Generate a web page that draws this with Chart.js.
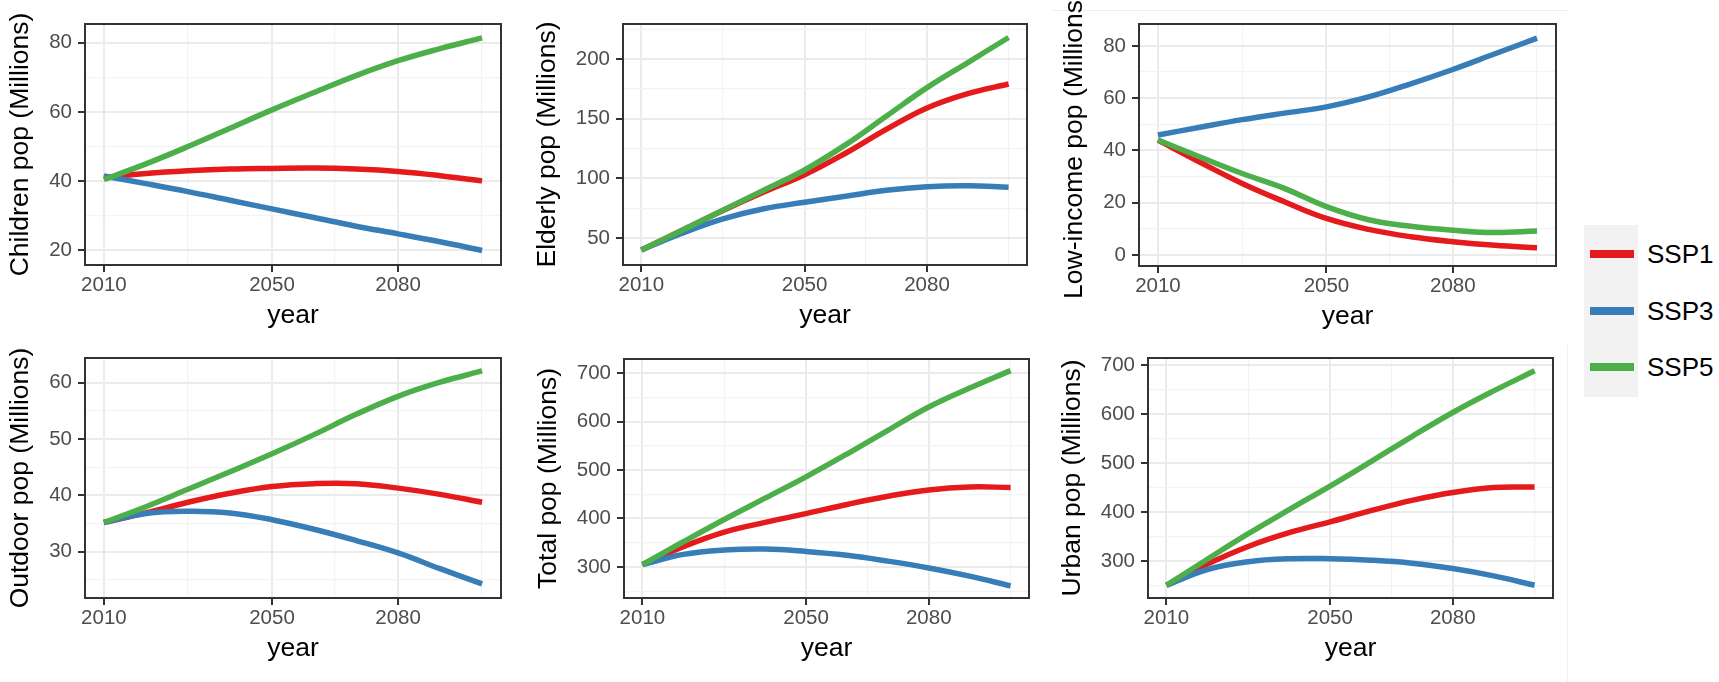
<!DOCTYPE html>
<html>
<head>
<meta charset="utf-8">
<script src="https://cdn.jsdelivr.net/npm/chart.js@4.4.1/dist/chart.umd.min.js"></script>
<style>
  html, body { margin: 0; padding: 0; background: #fff; }
  body { width: 1719px; height: 682px; position: relative; overflow: hidden;
         font-family: "Liberation Sans", Arial, sans-serif; }
  .panel { position: absolute; }
  .legend { position: absolute; left: 1584px; top: 225px; width: 54px; height: 172px; background: #f2f2f2; }
  .key { position: absolute; left: 1590px; width: 44px; height: 8px; }
  .keytext { position: absolute; left: 1647px; font-size: 26px; line-height: 30px; color: #000; }
  .faint { position: absolute; background: #efefef; }
</style>
</head>
<body>
<div class="faint" style="left:1052px; top:10px; width:516px; height:1px;"></div>
<div class="faint" style="left:1567px; top:345px; width:1px; height:337px;"></div>

<div class="panel" id="p1"><canvas></canvas></div>
<div class="panel" id="p2"><canvas></canvas></div>
<div class="panel" id="p3"><canvas></canvas></div>
<div class="panel" id="p4"><canvas></canvas></div>
<div class="panel" id="p5"><canvas></canvas></div>
<div class="panel" id="p6"><canvas></canvas></div>

<div class="legend"></div>
<div id="legendKeys"></div>

<script>
// x values and scenarios
const years = [2010, 2020, 2030, 2040, 2050, 2060, 2070, 2080, 2090, 2100];
const scenarios = ['SSP1', 'SSP3', 'SSP5'];
const yearTicks = [2010, 2050, 2080];
const yearMinor = [2030, 2065, 2100];

// Children pop
const childrenSSP1 = [41, 42.2, 43, 43.5, 43.7, 43.8, 43.5, 42.8, 41.6, 40.1];
const childrenSSP3 = [41.5, 39.3, 37, 34.5, 32, 29.5, 27, 24.8, 22.5, 20];
const childrenSSP5 = [40.5, 45, 50, 55.3, 60.6, 65.6, 70.5, 74.8, 78.3, 81.4];
const childrenTicks = [20, 40, 60, 80];
const childrenMinor = [30, 50, 70];

// Elderly pop
const elderlySSP1 = [40, 56.5, 73, 88.5, 103, 121, 141, 159, 171, 179];
const elderlySSP3 = [40, 54, 66, 74.5, 80, 85, 90, 93, 93.8, 92.5];
const elderlySSP5 = [40, 56.5, 73.4, 90, 107, 128, 152, 176, 197, 218];
const elderlyTicks = [50, 100, 150, 200];
const elderlyMinor = [75, 125, 175, 225];

// Low-income pop
const lowincSSP1 = [44, 35.5, 27.4, 20.4, 14, 9.8, 7, 5.1, 3.7, 2.8];
const lowincSSP3 = [45.9, 48.9, 51.8, 54.3, 56.7, 60.5, 65.5, 71, 77, 83];
const lowincSSP5 = [44, 37.5, 31.2, 25.5, 18.5, 13.5, 11, 9.5, 8.6, 9.2];
const lowincTicks = [0, 20, 40, 60, 80];
const lowincMinor = [10, 30, 50, 70];

// Outdoor pop
const outdoorSSP1 = [35.2, 36.9, 38.8, 40.4, 41.6, 42.1, 42.1, 41.3, 40.2, 38.8];
const outdoorSSP3 = [35.2, 36.8, 37.2, 36.9, 35.7, 34, 32, 29.8, 27, 24.3];
const outdoorSSP5 = [35.2, 38, 41.1, 44.2, 47.4, 50.8, 54.4, 57.6, 60.1, 62.1];
const outdoorTicks = [30, 40, 50, 60];
const outdoorMinor = [25, 35, 45, 55];

// Total pop
const totalSSP1 = [305, 342, 372, 392, 410, 429, 446, 459, 465, 464];
const totalSSP3 = [305, 326, 335, 337, 332, 324, 312, 298, 281, 261];
const totalSSP5 = [305, 352, 398, 442, 486, 533, 582, 630, 669, 705];
const totalTicks = [300, 400, 500, 600, 700];
const totalMinor = [250, 350, 450, 550, 650];

// Urban pop
const urbanSSP1 = [251, 294, 330, 358, 380, 403, 424, 440, 450, 451];
const urbanSSP3 = [251, 283, 299, 305, 305, 302, 296, 285, 270, 251];
const urbanSSP5 = [251, 304, 356, 405, 453, 503, 554, 603, 647, 688];
const urbanTicks = [300, 400, 500, 600, 700];
const urbanMinor = [250, 350, 450, 550, 650];

const colors = ['#E41A1C', '#377EB8', '#4DAF4A'];
const tickFont = { family: 'Liberation Sans', size: 20.5 };
const titleFont = { family: 'Liberation Sans', size: 26.5 };

// panel geometry: canvas origin + plot rectangle [left, top, right, bottom]
const panels = [
  { id: 'p1', title: 'Children pop (Millions)', series: [childrenSSP1, childrenSSP3, childrenSSP5],
    ticks: childrenTicks, minor: childrenMinor, yMin: 15.8, yMax: 85.4, cx: 0, cy: 0, plot: [85, 24, 501, 265] },
  { id: 'p2', title: 'Elderly pop (Millions)', series: [elderlySSP1, elderlySSP3, elderlySSP5],
    ticks: elderlyTicks, minor: elderlyMinor, yMin: 27.4, yMax: 229.3, cx: 527, cy: 0, plot: [623, 24, 1027, 265] },
  { id: 'p3', title: 'Low-income pop (Millions)', series: [lowincSSP1, lowincSSP3, lowincSSP5],
    ticks: lowincTicks, minor: lowincMinor, yMin: -4.2, yMax: 88.4, cx: 1054, cy: 0, plot: [1139, 24, 1556, 266] },
  { id: 'p4', title: 'Outdoor pop (Millions)', series: [outdoorSSP1, outdoorSSP3, outdoorSSP5],
    ticks: outdoorTicks, minor: outdoorMinor, yMin: 21.8, yMax: 64.4, cx: 0, cy: 334, plot: [85, 358, 501, 598] },
  { id: 'p5', title: 'Total pop (Millions)', series: [totalSSP1, totalSSP3, totalSSP5],
    ticks: totalTicks, minor: totalMinor, yMin: 236, yMax: 729, cx: 528, cy: 334, plot: [624, 359, 1029, 598] },
  { id: 'p6', title: 'Urban pop (Millions)', series: [urbanSSP1, urbanSSP3, urbanSSP5],
    ticks: urbanTicks, minor: urbanMinor, yMin: 225, yMax: 714, cx: 1052, cy: 334, plot: [1148, 358, 1553, 598] }
];

const panelBorder = {
  id: 'panelBorder',
  afterDatasetsDraw(chart) {
    const { ctx, chartArea: a } = chart;
    ctx.save();
    ctx.strokeStyle = '#333333';
    ctx.lineWidth = 2;
    ctx.strokeRect(a.left, a.top, a.right - a.left, a.bottom - a.top);
    ctx.restore();
  }
};

function gridOpts(major) {
  return {
    color: c => major.includes(c.tick.value) ? '#ebebeb' : '#f3f3f3',
    lineWidth: c => major.includes(c.tick.value) ? 2 : 1.2,
    tickColor: c => major.includes(c.tick.value) ? '#333333' : 'rgba(0,0,0,0)',
    tickWidth: 2,
    tickLength: 7
  };
}

panels.forEach(p => {
  const [L, T, R, B] = p.plot;
  const w = R + 20 - p.cx;
  const h = B + 69 - p.cy;
  const box = document.getElementById(p.id);
  box.style.left = p.cx + 'px';
  box.style.top = p.cy + 'px';
  box.style.width = w + 'px';
  box.style.height = h + 'px';
  const axisW = L - p.cx;

  new Chart(box.querySelector('canvas'), {
    type: 'line',
    data: {
      datasets: scenarios.map((name, i) => ({
        label: name,
        data: years.map((yr, k) => ({ x: yr, y: p.series[i][k] })),
        borderColor: colors[i],
        borderWidth: 5.5,
        borderCapStyle: 'butt',
        pointRadius: 0,
        tension: 0.4,
        fill: false,
        order: 3 - i
      }))
    },
    options: {
      responsive: true,
      maintainAspectRatio: false,
      animation: false,
      events: [],
      layout: { padding: { top: T - p.cy, right: 20, left: 0, bottom: 0 } },
      plugins: { legend: { display: false }, tooltip: { enabled: false } },
      scales: {
        x: {
          type: 'linear',
          min: 2005.5,
          max: 2104.5,
          afterBuildTicks: s => { s.ticks = yearTicks.concat(yearMinor).sort((a, b) => a - b).map(v => ({ value: v })); },
          afterFit: s => { s.height = 69; },
          grid: gridOpts(yearTicks),
          border: { display: false },
          ticks: {
            autoSkip: false, maxRotation: 0, padding: 1,
            color: '#4d4d4d', font: tickFont,
            callback: v => yearTicks.includes(v) ? String(v) : ''
          },
          title: { display: true, text: 'year', color: '#000', font: titleFont, padding: { top: 0, bottom: 2 } }
        },
        y: {
          type: 'linear',
          min: p.yMin,
          max: p.yMax,
          afterBuildTicks: s => { s.ticks = p.ticks.concat(p.minor).sort((a, b) => a - b).map(v => ({ value: v })); },
          afterFit: s => { s.width = axisW; },
          grid: gridOpts(p.ticks),
          border: { display: false },
          ticks: {
            autoSkip: false, padding: 6,
            color: '#4d4d4d', font: tickFont,
            callback: v => p.ticks.includes(v) ? String(v) : ''
          },
          title: { display: true, text: p.title, color: '#000', font: titleFont, padding: { top: 5, bottom: 0 } }
        }
      }
    },
    plugins: [panelBorder]
  });
});

// legend
const keyCenters = [254, 311, 367];
const legendBox = document.getElementById('legendKeys');
scenarios.forEach((name, i) => {
  const k = document.createElement('div');
  k.className = 'key';
  k.style.top = (keyCenters[i] - 4) + 'px';
  k.style.background = colors[i];
  legendBox.appendChild(k);
  const t = document.createElement('div');
  t.className = 'keytext';
  t.style.top = (keyCenters[i] - 15) + 'px';
  t.textContent = name;
  legendBox.appendChild(t);
});
</script>
</body>
</html>
